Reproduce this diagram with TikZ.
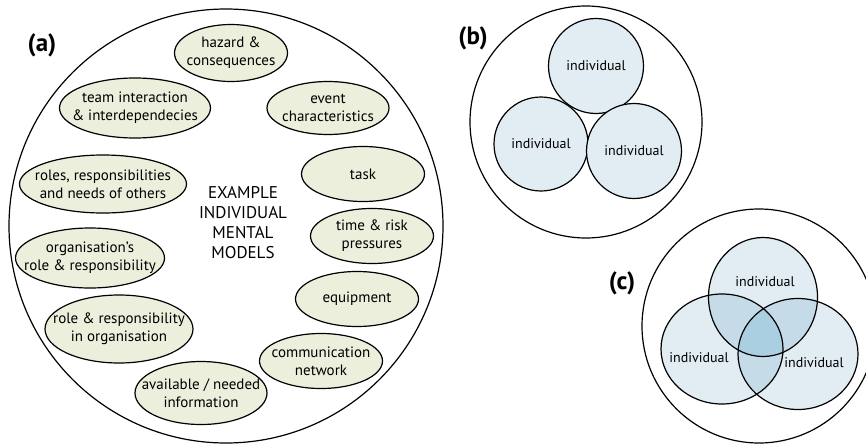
\documentclass[tikz,border=0pt]{standalone}
\usepackage{fontspec}
\setmainfont{PT Sans}
\usetikzlibrary{shapes.geometric}
\definecolor{modelfill}{HTML}{EBEFDC}
\definecolor{indivfill}{HTML}{E1ECF3}
\definecolor{pairfill}{HTML}{C5DCE8}
\definecolor{triplefill}{HTML}{AACFE0}

\begin{document}
\begin{tikzpicture}[x=1pt,y=-1pt]
    \tikzset{model/.style = {shape=ellipse, draw, line width=1.2pt, fill=modelfill, inner xsep=-14pt, inner ysep=0pt, align=center, font=\fontsize{15}{18}\selectfont}}
    \tikzset{ring/.style = {draw, line width=1.2pt}}
    \tikzset{member/.style = {shape=circle, draw, line width=1.2pt, fill=indivfill, inner sep=0pt, font=\fontsize{14}{15}\selectfont}}
    \tikzset{memberlabel/.style = {inner sep=0pt, font=\fontsize{14}{15}\selectfont}}
    \tikzset{panel/.style = {font=\fontsize{25}{25}\selectfont\bfseries}}

    \useasboundingbox (0,0) rectangle (866,444);

    % (a) individual mental models
    \draw[ring] (226,226) circle [radius=217];
    \node[panel] (pa) at (42,45) {(a)};
    \node[align=center, font=\fontsize{17}{20}\selectfont] (centre) at (243,223) {EXAMPLE\\INDIVIDUAL\\MENTAL\\MODELS};

    \node[model, minimum width=113, minimum height=57] (hazard) at (231,53) {hazard \&\\consequences};
    \node[model, minimum width=151, minimum height=60] (team) at (135,108) {team interaction\\\& interdependecies};
    \node[model, minimum width=122, minimum height=53] (event) at (328,108) {event\\characteristics};
    \node[model, minimum width=167, minimum height=58] (roles) at (103,184) {roles, responsibilities\\and needs of others};
    \node[model, minimum width=123, minimum height=55] (task) at (363,174) {task};
    \node[model, minimum width=149, minimum height=60] (orgrole) at (90,258) {organisation’s\\role \& responsibility};
    \node[model, minimum width=123, minimum height=55] (time) at (372,236) {time \& risk\\pressures};
    \node[model, minimum width=123, minimum height=55] (equip) at (357,299) {equipment};
    \node[model, minimum width=148, minimum height=68] (inorg) at (119,329) {role \& responsibility\\in organisation};
    \node[model, minimum width=123, minimum height=55] (comm) at (321,361) {communication\\network};
    \node[model, minimum width=132, minimum height=63] (info) at (201,393) {available / needed\\information};

    % (b) separate individuals
    \draw[ring] (586,122) circle [radius=116];
    \node[panel] (pb) at (473,38) {(b)};
    \node[member, minimum size=95] (btop) at (596,66) {individual};
    \node[member, minimum size=94] (bleft) at (541,144) {individual};
    \node[member, minimum size=95] (bright) at (634,151) {individual};

    % (c) overlapping individuals
    \draw[ring] (759,326) circle [radius=117];
    \node[panel] (pc) at (622,283) {(c)};
    \fill[indivfill] (763,297) ellipse [x radius=54.5, y radius=59.5];
    \fill[indivfill] (722,349) ellipse [x radius=61, y radius=55];
    \fill[indivfill] (798,354) ellipse [x radius=60, y radius=55.5];
    \begin{scope}
        \clip (763,297) ellipse [x radius=54.5, y radius=59.5];
        \fill[pairfill] (722,349) ellipse [x radius=61, y radius=55];
        \fill[pairfill] (798,354) ellipse [x radius=60, y radius=55.5];
    \end{scope}
    \begin{scope}
        \clip (722,349) ellipse [x radius=61, y radius=55];
        \fill[pairfill] (798,354) ellipse [x radius=60, y radius=55.5];
        \clip (798,354) ellipse [x radius=60, y radius=55.5];
        \fill[triplefill] (763,297) ellipse [x radius=54.5, y radius=59.5];
    \end{scope}
    \draw[ring] (763,297) ellipse [x radius=54.5, y radius=59.5];
    \draw[ring] (722,349) ellipse [x radius=61, y radius=55];
    \draw[ring] (798,354) ellipse [x radius=60, y radius=55.5];
    \node[memberlabel] (ctop) at (765,282) {individual};
    \node[memberlabel] (cleft) at (699,358) {individual};
    \node[memberlabel] (cright) at (814,363) {individual};
\end{tikzpicture}
\end{document}
